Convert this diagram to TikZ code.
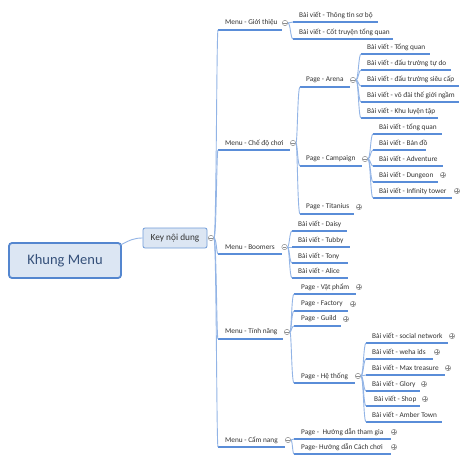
\documentclass[tikz,border=0pt]{standalone}
\usepackage{fontspec}
\setmainfont{Carlito}
\usetikzlibrary{calc}
\definecolor{ulblue}{HTML}{5A8DD8}
\definecolor{cnblue}{HTML}{92B4E6}
\definecolor{txtgray}{HTML}{333333}
\definecolor{icgray}{HTML}{8E8E8E}
\definecolor{boxfill}{HTML}{DCE6F3}
\definecolor{rootdraw}{HTML}{5486CF}
\definecolor{keydraw}{HTML}{6F9BD8}
\definecolor{roottxt}{HTML}{35507A}
\tikzset{
  lbl/.style={anchor=west,inner sep=0pt,text=txtgray,font=\fontsize{7.3}{8}\selectfont},
  uline/.style={draw=ulblue,line width=1.1pt},
  conn/.style={draw=cnblue,line width=0.9pt},
  icon/.style={circle,draw=icgray,fill=white,line width=0.5pt,minimum size=5.4pt,inner sep=0pt},
  iconl/.style={draw=icgray,line width=0.5pt},
  rootbox/.style={draw=rootdraw,fill=boxfill,line width=1.8pt,rounded corners=3pt,
    minimum width=112pt,minimum height=35pt,text=roottxt,font=\fontsize{14.5}{16}\selectfont},
  keybox/.style={draw=keydraw,fill=boxfill,line width=0.8pt,rounded corners=2pt,
    minimum width=64pt,minimum height=20pt,text=txtgray,font=\fontsize{9.3}{11}\selectfont,inner sep=0pt}
}
\newcommand\itm[6]{%
  \node[lbl] (#1) at (#2,#3) {#6};
  \coordinate (#1-a) at ({#4},{#3+7});
  \coordinate (#1-b) at ({#5},{#3+7});
  \draw[uline] (#1-a) -- (#1-b);}
\newcommand\cn[3]{\draw[conn] let \p1=(#1.east), \p2=(#3-a) in (\p1) .. controls (#2pt,\y1) and (#2pt,\y2) .. (\p2);}
\newcommand\icminus[3]{\node[icon] (#1) at (#2,#3) {};
  \draw[iconl] ([xshift=-1.6pt]#1.center) -- ([xshift=1.6pt]#1.center);}
\newcommand\icplus[3]{\node[icon] (#1) at (#2,#3) {};
  \draw[iconl] ([xshift=-1.6pt]#1.center) -- ([xshift=1.6pt]#1.center);
  \draw[iconl] ([yshift=-1.6pt]#1.center) -- ([yshift=1.6pt]#1.center);}
\begin{document}
\begin{tikzpicture}[x=1pt,y=-1pt]
\useasboundingbox[fill=white] (0,0) rectangle (469,463);

% root and key
\node[rootbox] (root) at (65,260.5) {Khung Menu};
\node[keybox] (key) at (175,238) {Key nội dung};
\coordinate (root-o) at (120.5,245);
\draw[conn] (root-o) .. controls (130,240) and (134,238) .. (key.west);

% level 1
\itm{m1}{225}{23}{218}{282}{Menu - Giới thiệu}
\itm{m2}{225}{143}{218}{290}{Menu - Chế độ chơi}
\itm{m3}{225}{247}{218}{282}{Menu - Boomers}
\itm{m4}{225}{332}{218}{283}{Menu - Tính năng}
\itm{m5}{225}{440}{218}{285}{Menu - Cẩm nang}

% Gioi thieu
\itm{a1}{299}{15}{293}{378}{Bài viết - Thông tin sơ bộ}
\itm{a2}{299}{32}{293}{393}{Bài viết - Cốt truyện tổng quan}

% Che do choi
\itm{p1}{306}{80}{300}{350}{Page - Arena}
\itm{p2}{306}{159}{300}{362}{Page - Campaign}
\itm{p3}{306}{207}{300}{354}{Page - Titanius}

% Arena
\itm{r1}{367}{47}{361}{430}{Bài viết - Tổng quan}
\itm{r2}{367}{63}{361}{451}{Bài viết - đấu trường tự do}
\itm{r3}{367}{79}{361}{459}{Bài viết - đấu trường siêu cấp}
\itm{r4}{367}{95}{361}{459}{Bài viết - võ đài thế giới ngầm}
\itm{r5}{367}{111}{361}{438}{Bài viết - Khu luyện tập}

% Campaign
\itm{c1}{379}{127}{373}{442}{Bài viết - tổng quan}
\itm{c2}{379}{143}{373}{426}{Bài viết - Bản đồ}
\itm{c3}{379}{159}{373}{443}{Bài viết - Adventure}
\itm{c4}{379}{175}{373}{438}{Bài viết - Dungeon}
\itm{c5}{379}{191}{373}{452}{Bài viết - Infinity tower}

% Boomers
\itm{b1}{298}{224}{292}{347}{Bài viết - Daisy}
\itm{b2}{298}{240}{292}{350}{Bài viết - Tubby}
\itm{b3}{298}{256}{292}{348}{Bài viết - Tony}
\itm{b4}{298}{271}{292}{348}{Bài viết - Alice}

% Tinh nang
\itm{t1}{301}{287}{294}{356}{Page - Vật phẩm}
\itm{t2}{301}{304}{294}{348}{Page - Factory}
\itm{t3}{301}{319}{294}{341}{Page - Guild}
\itm{t4}{301}{376}{294}{355}{Page - Hệ thống}

% He thong
\itm{h1}{372}{336}{366}{448}{Bài viết - social network}
\itm{h2}{372}{352}{366}{433}{Bài viết - weha ids}
\itm{h3}{372}{368}{366}{445}{Bài viết - Max treasure}
\itm{h4}{372}{384}{366}{420}{Bài viết - Glory}
\itm{h5}{374}{399}{366}{420}{Bài viết - Shop}
\itm{h6}{372}{415}{366}{442}{Bài viết - Amber Town}

% Cam nang
\itm{g1}{301}{432}{294}{391}{Page -\ \ Hướng dẫn tham gia}
\itm{g2}{301}{447}{294}{391}{Page- Hướng dẫn Cách chơi}

% icons
\icminus{ikey}{211}{238}
\icminus{im1}{285}{23}
\icminus{im2}{293}{143}
\icminus{im3}{284.5}{247}
\icminus{im4}{287}{332}
\icminus{im5}{288}{440}
\icminus{ip1}{353}{80}
\icminus{ip2}{365}{159}
\icplus{ip3}{359}{207}
\icplus{ic4}{443}{175}
\icplus{ic5}{457}{191}
\icplus{it1}{359}{287}
\icplus{it2}{353}{304}
\icplus{it3}{346}{319}
\icminus{it4}{358}{376}
\icplus{ih1}{452}{336}
\icplus{ih2}{437}{352}
\icplus{ih3}{448}{368}
\icplus{ih4}{424}{384}
\icplus{ih5}{425}{399}
\icplus{ig1}{394}{432}
\icplus{ig2}{394}{447}

% connectors
\foreach \m in {m1,m2,m3,m4,m5}{\cn{ikey}{216.5}{\m}}
\foreach \m in {a1,a2}{\cn{im1}{290.5}{\m}}
\foreach \m in {p1,p2,p3}{\cn{im2}{297.5}{\m}}
\foreach \m in {r1,r2,r3,r4,r5}{\cn{ip1}{358.5}{\m}}
\foreach \m in {c1,c2,c3,c4,c5}{\cn{ip2}{370.5}{\m}}
\foreach \m in {b1,b2,b3,b4}{\cn{im3}{289.5}{\m}}
\foreach \m in {t1,t2,t3,t4}{\cn{im4}{291.5}{\m}}
\foreach \m in {h1,h2,h3,h4,h5,h6}{\cn{it4}{363.5}{\m}}
\foreach \m in {g1,g2}{\cn{im5}{292.5}{\m}}
\end{tikzpicture}
\end{document}
